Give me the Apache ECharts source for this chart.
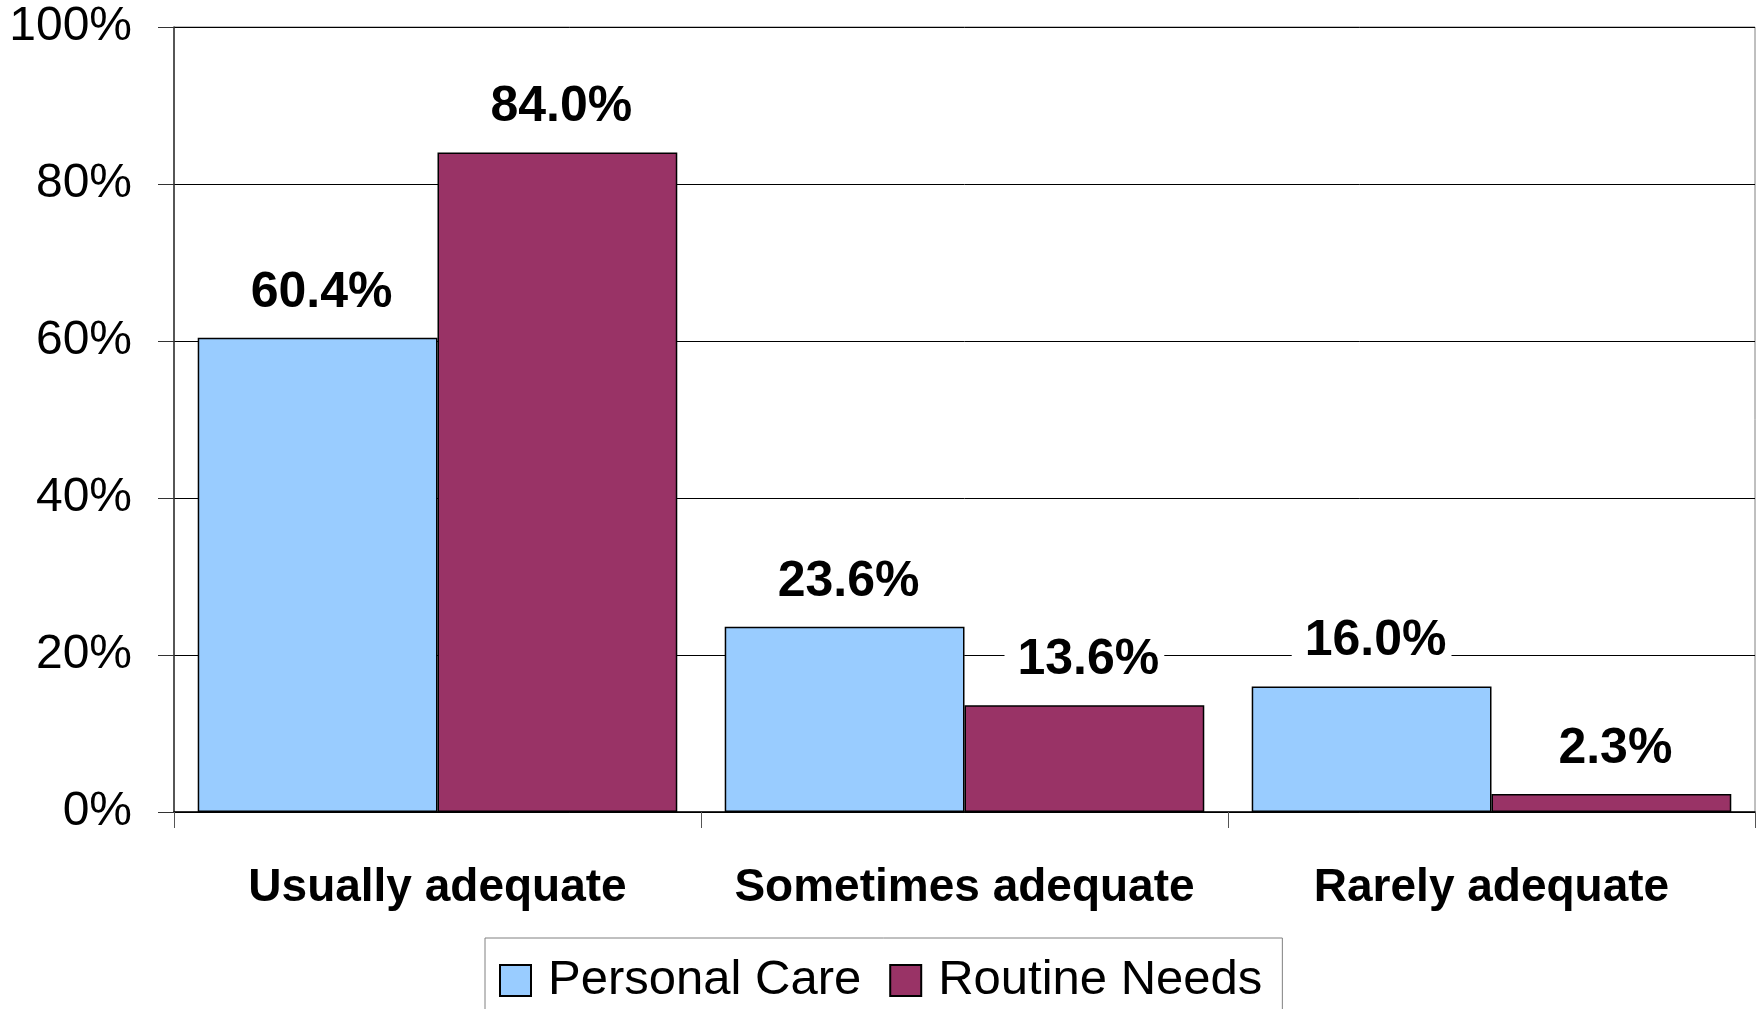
<!DOCTYPE html>
<html>
<head>
<meta charset="utf-8">
<title>Adequacy of help received</title>
<script src="https://cdn.jsdelivr.net/npm/echarts@6/dist/echarts.min.js"></script>
<style>
  html, body { margin: 0; padding: 0; background: #fff; }
  #chart { width: 1760px; height: 1009px; }
</style>
</head>
<body>
<div id="chart"></div>
<script>
// Share of respondents by how adequate the help they get is
const categories = ['Usually adequate', 'Sometimes adequate', 'Rarely adequate'];
const personalCare = [60.4, 23.6, 16.0];
const routineNeeds = [84.0, 13.6, 2.3];
const seriesNames = ['Personal Care', 'Routine Needs'];
const yTicks = { min: 0, max: 100, interval: 20 };

const FONT = "'Liberation Sans', Arial, Helvetica, sans-serif";

const valueLabel = {
  show: true,
  position: 'top',
  distance: 20,
  formatter: p => p.value.toFixed(1) + '%',
  fontFamily: FONT,
  fontSize: 50,
  fontWeight: 'bold',
  color: '#000',
  backgroundColor: '#fff',
  padding: [0, 5, 0, 13]
};

const barBorder = { borderColor: '#000', borderWidth: 1.5 };

const chart = echarts.init(document.getElementById('chart'), null, { renderer: 'canvas' });

chart.setOption({
  animation: false,
  backgroundColor: '#fff',
  grid: {
    left: 174,
    right: 5,
    top: 27,
    bottom: 197,
    show: true,
    borderColor: '#808080',
    borderWidth: 1,
    backgroundColor: 'transparent'
  },
  legend: {
    data: seriesNames,
    left: 485,
    top: 938,
    orient: 'horizontal',
    padding: [18, 20, 40, 14],
    itemGap: 28,
    itemWidth: 31,
    itemHeight: 31,
    icon: 'rect',
    borderColor: '#808080',
    borderWidth: 1,
    backgroundColor: '#fff',
    textStyle: {
      fontFamily: FONT,
      fontSize: 49,
      color: '#000',
      padding: [0, 0, 0, 12]
    }
  },
  xAxis: {
    type: 'category',
    data: categories,
    boundaryGap: true,
    axisLine: { lineStyle: { color: '#000', width: 1.5 } },
    axisTick: { show: true, length: 16, lineStyle: { color: '#555' } },
    axisLabel: {
      interval: 0,
      margin: 53,
      fontFamily: FONT,
      fontSize: 46,
      fontWeight: 'bold',
      color: '#000'
    },
    splitLine: { show: false }
  },
  yAxis: {
    type: 'value',
    min: yTicks.min,
    max: yTicks.max,
    interval: yTicks.interval,
    axisLine: { show: true, lineStyle: { color: '#333', width: 1.5 } },
    axisTick: { show: true, length: 16, lineStyle: { color: '#333' } },
    axisLabel: {
      margin: 42,
      padding: [5, 0, 0, 0],
      formatter: '{value}%',
      fontFamily: FONT,
      fontSize: 48,
      color: '#000'
    },
    splitLine: { show: true, lineStyle: { color: '#000', width: 1 } }
  },
  series: [
    {
      name: seriesNames[0],
      type: 'bar',
      data: personalCare,
      barGap: '0%',
      barCategoryGap: '9%',
      itemStyle: Object.assign({ color: '#99CCFF' }, barBorder),
      label: valueLabel,
      emphasis: { disabled: true }
    },
    {
      name: seriesNames[1],
      type: 'bar',
      data: routineNeeds,
      barGap: '0%',
      barCategoryGap: '9%',
      itemStyle: Object.assign({ color: '#993366' }, barBorder),
      label: valueLabel,
      emphasis: { disabled: true }
    }
  ]
});
</script>
</body>
</html>
